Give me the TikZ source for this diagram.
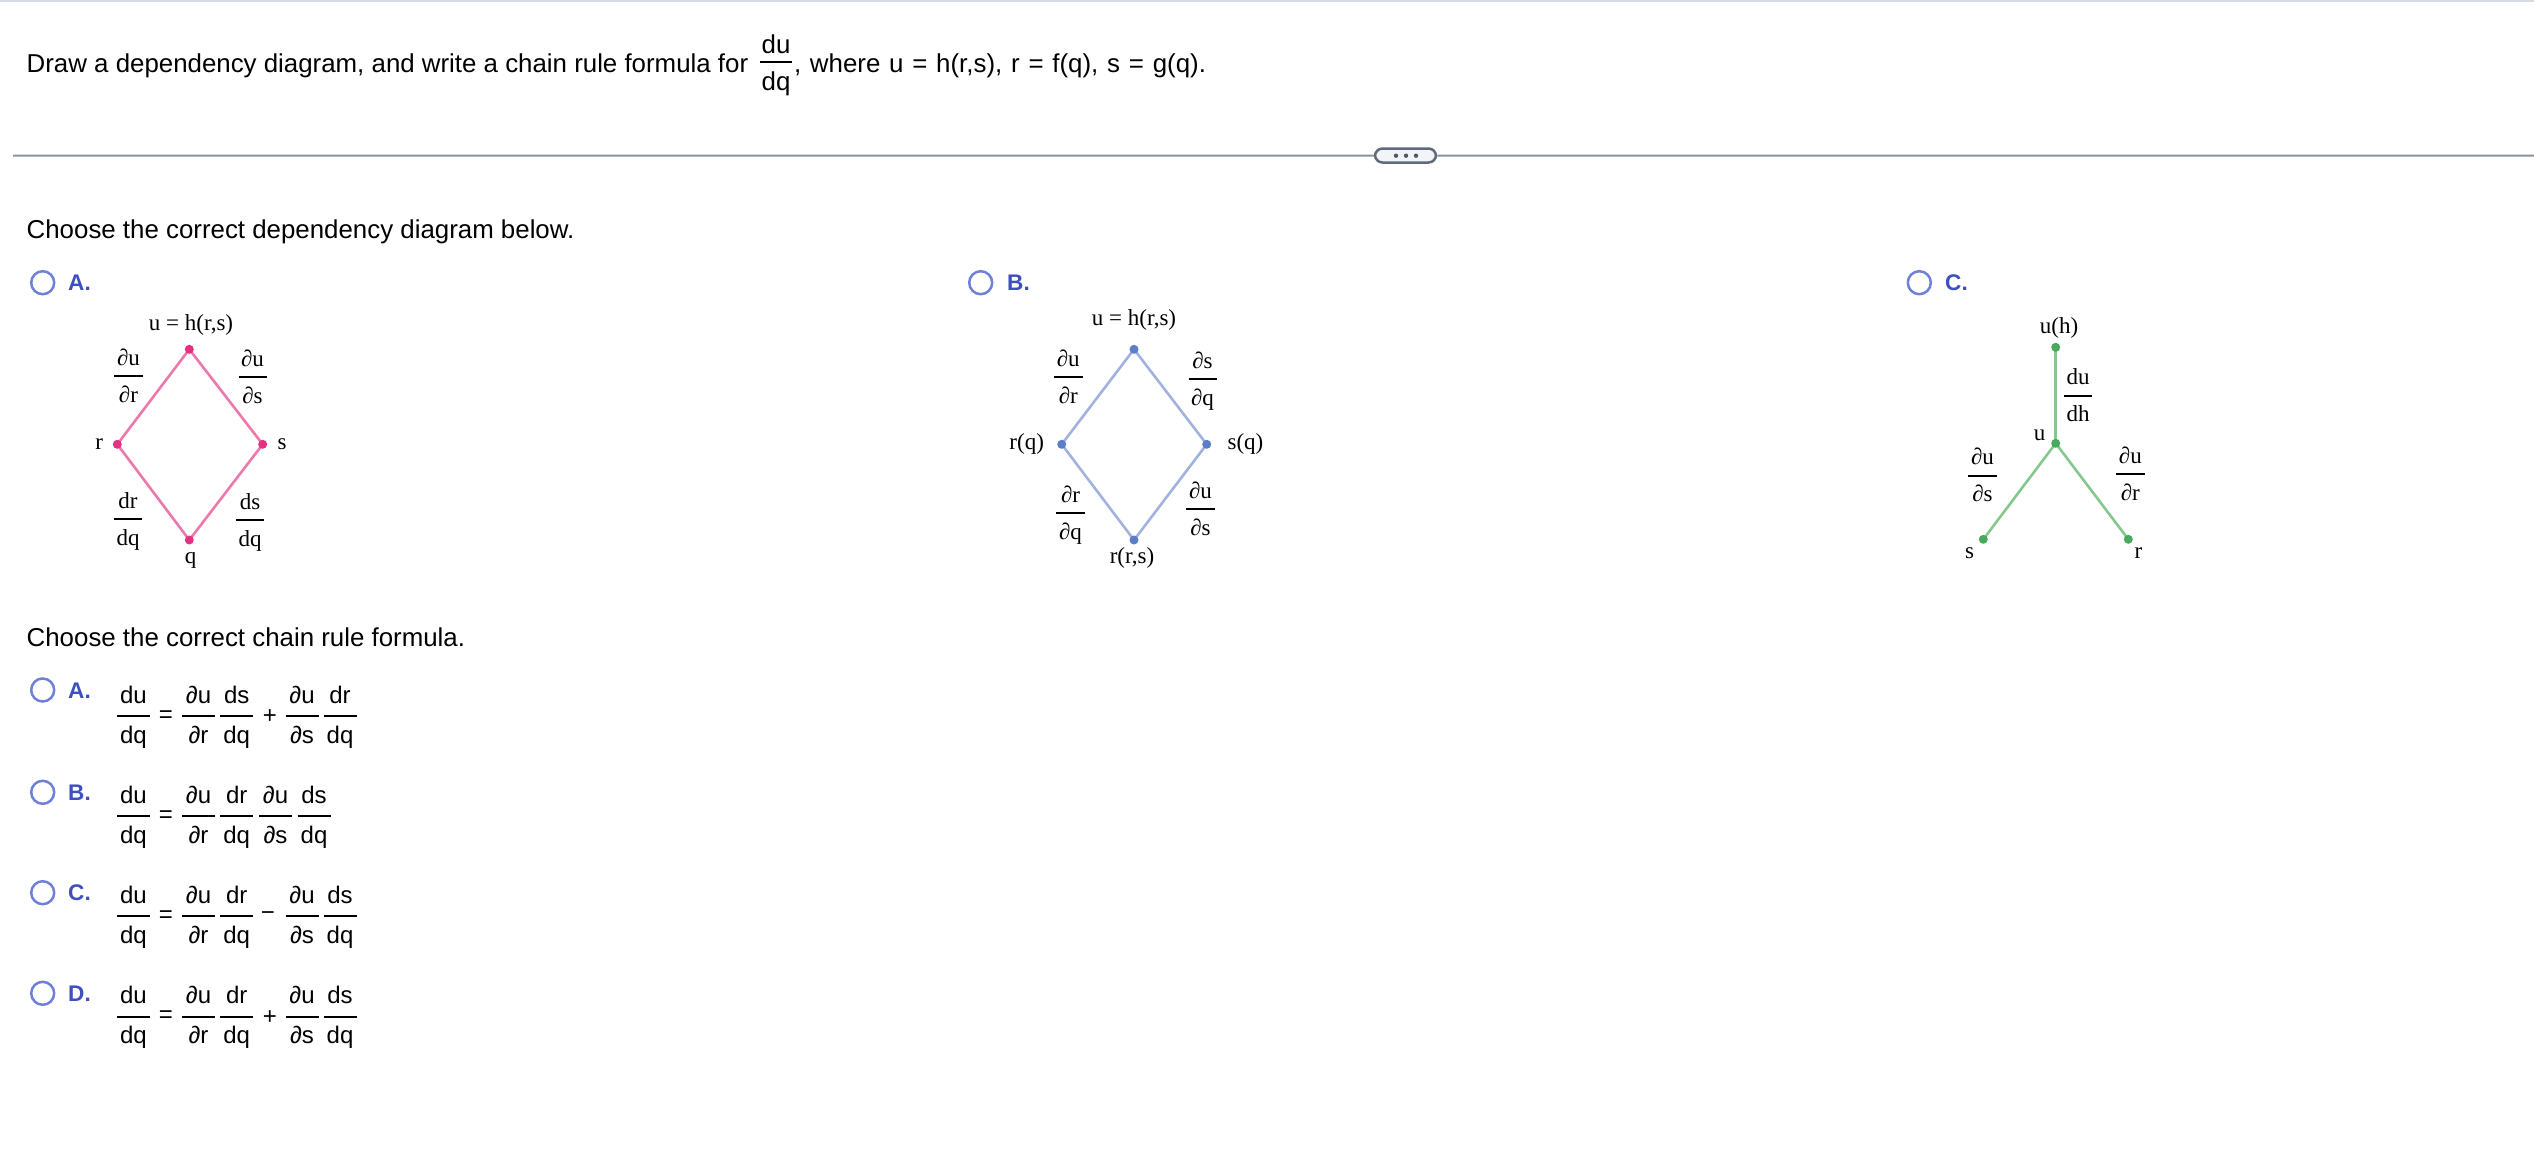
\documentclass[tikz,border=0pt]{standalone}
\usepackage{fontspec}
\setmainfont{Liberation Sans}
\newfontfamily\serfam{Liberation Serif}
\definecolor{optblue}{RGB}{62,80,190}
\definecolor{radiocol}{RGB}{110,128,215}
\definecolor{rulecol}{RGB}{138,144,156}
\definecolor{pillfill}{RGB}{242,244,247}
\definecolor{pilldraw}{RGB}{95,107,122}
\definecolor{pilldots}{RGB}{80,88,100}
\definecolor{pinkline}{RGB}{238,120,172}
\definecolor{pinkdot}{RGB}{228,50,130}
\definecolor{blueline}{RGB}{162,178,222}
\definecolor{bluedot}{RGB}{92,126,200}
\definecolor{greenline}{RGB}{132,200,142}
\definecolor{greendot}{RGB}{72,170,92}
\definecolor{topline}{RGB}{215,219,226}
\tikzset{
  sans/.style={font=\fontsize{25.86}{31}\selectfont, inner sep=0pt, outer sep=0pt},
  fm/.style={font=\fontsize{24}{29}\selectfont, inner sep=0pt, outer sep=0pt},
  ser/.style={font=\serfam\fontsize{23}{27}\selectfont, inner sep=0pt, outer sep=0pt},
  optlab/.style={font=\bfseries\fontsize{22.6}{27}\selectfont, text=optblue, inner sep=0pt, anchor=base west},
  radio/.style={circle, draw=radiocol, line width=2.5pt, minimum size=23pt, inner sep=0pt},
  fbar/.style={line width=2pt, draw=black},
  pedge/.style={draw=pinkline, line width=2.6pt},
  pdot/.style={circle, fill=pinkdot, minimum size=9pt, inner sep=0pt},
  bedge/.style={draw=blueline, line width=2.6pt},
  bdot/.style={circle, fill=bluedot, minimum size=9pt, inner sep=0pt},
  gedge/.style={draw=greenline, line width=2.6pt},
  gdot/.style={circle, fill=greendot, minimum size=9pt, inner sep=0pt},
}
% Times-style fraction in the diagrams: name, x, bar y, num, den, half width
\newcommand\tfrc[6]{%
  \node[ser,anchor=base] (#1n) at (#2,#3-11) {#4};
  \node[ser,anchor=base] (#1d) at (#2,#3+26) {#5};
  \draw[fbar] (#2-#6,#3) -- (#2+#6,#3);}
% sans fraction in the formulas: name, x, bar y, num, den
\newcommand\sfrc[5]{%
  \node[fm,anchor=base] (#1n) at (#2,#3-13) {#4};
  \node[fm,anchor=base] (#1d) at (#2,#3+27) {#5};
  \draw[fbar] (#2-16.5,#3) -- (#2+16.5,#3);}
\begin{document}
\begin{tikzpicture}[x=1pt,y=-1pt]
\useasboundingbox (0,0) rectangle (2534,1162);
% top border
\draw[topline, line width=2pt] (0,1) -- (2534,1);
% title
\node[sans,anchor=base west] (title1) at (26.7,72) {Draw a dependency diagram, and write a chain rule formula for};
\node[sans,anchor=base] (tnum) at (776,53) {du};
\node[sans,anchor=base] (tden) at (776,90) {dq};
\draw[fbar] (760,62) -- (792,62);
\node[sans,anchor=base west] (title2) at (794,72) {\spaceskip=0.34em plus 0.1em\relax , where u = h(r,s), r = f(q), s = g(q).};
% rule with pill
\coordinate (rs) at (13,155.7);
\coordinate (re) at (2534,155.7);
\node[draw=pilldraw, fill=pillfill, line width=2.5pt, rounded corners=7.5pt, minimum width=61pt, minimum height=14pt, inner sep=0pt] (pill) at (1405.5,155.5) {};
\draw[rulecol, line width=2pt] (rs) -- (pill.west);
\draw[rulecol, line width=2pt] (pill.east) -- (re);
\fill[pilldots] (1396,155.7) circle (2.2pt) (1406,155.7) circle (2.2pt) (1416,155.7) circle (2.2pt);
% heading 1
\node[sans,anchor=base west] (h1) at (26.7,238) {Choose the correct dependency diagram below.};
% options for diagrams
\node[radio] (rA) at (42.7,282.7) {};
\node[optlab] (lA) at (68,290.7) {A.};
\node[radio] (rB) at (980.7,282.7) {};
\node[optlab] (lB) at (1007,290.7) {B.};
\node[radio] (rC) at (1919.3,282.7) {};
\node[optlab] (lC) at (1945,290.7) {C.};
% ---------- Diagram A ----------
\coordinate (At) at (189.3,349.3);
\coordinate (Ar) at (117.3,444.3);
\coordinate (As) at (262.7,444.3);
\coordinate (Aq) at (189.3,540);
\draw[pedge] (At) -- (Ar) -- (Aq) -- (As) -- cycle;
\node[pdot] (Atd) at (At) {};
\node[pdot] (Ard) at (Ar) {};
\node[pdot] (Asd) at (As) {};
\node[pdot] (Aqd) at (Aq) {};
\node[ser,anchor=base] (Alu) at (191,330.4) {u = h(r,s)};
\node[ser,anchor=base] (Alr) at (99.3,449.5) {r};
\node[ser,anchor=base] (Als) at (282,449.5) {s};
\node[ser,anchor=base] (Alq) at (190.7,563.5) {q};
\tfrc{Af1}{128.5}{376}{∂u}{∂r}{14.5}
\tfrc{Af2}{252.5}{377.3}{∂u}{∂s}{14}
\tfrc{Af3}{128}{519.3}{dr}{dq}{14}
\tfrc{Af4}{250}{520}{ds}{dq}{14}
% ---------- Diagram B ----------
\coordinate (Bt) at (1134,349.3);
\coordinate (Br) at (1061.7,444.3);
\coordinate (Bs) at (1206.7,444.3);
\coordinate (Bb) at (1134,540);
\draw[bedge] (Bt) -- (Br) -- (Bb) -- (Bs) -- cycle;
\node[bdot] (Btd) at (Bt) {};
\node[bdot] (Brd) at (Br) {};
\node[bdot] (Bsd) at (Bs) {};
\node[bdot] (Bbd) at (Bb) {};
\node[ser,anchor=base] (Blu) at (1134,325.4) {u = h(r,s)};
\node[ser,anchor=base] (Blr) at (1026.7,449) {r(q)};
\node[ser,anchor=base] (Bls) at (1245.5,449) {s(q)};
\node[ser,anchor=base] (Blb) at (1132,563.5) {r(r,s)};
\tfrc{Bf1}{1068.3}{377.3}{∂u}{∂r}{14.3}
\tfrc{Bf2}{1202.5}{379.3}{∂s}{∂q}{14}
\tfrc{Bf3}{1070.5}{513.3}{∂r}{∂q}{14.5}
\tfrc{Bf4}{1200.5}{509.3}{∂u}{∂s}{14.5}
% ---------- Diagram C ----------
\coordinate (Ct) at (2055.7,347.3);
\coordinate (Cu) at (2055.7,443.3);
\coordinate (Cs) at (1983.3,539.3);
\coordinate (Cr) at (2128.3,539.3);
\draw[gedge] (Ct) -- (Cu);
\draw[gedge] (Cu) -- (Cs);
\draw[gedge] (Cu) -- (Cr);
\node[gdot] (Ctd) at (Ct) {};
\node[gdot] (Cud) at (Cu) {};
\node[gdot] (Csd) at (Cs) {};
\node[gdot] (Crd) at (Cr) {};
\node[ser,anchor=base] (Clt) at (2059,333.7) {u(h)};
\node[ser,anchor=base] (Clu) at (2039.5,440) {u};
\node[ser,anchor=base] (Cls) at (1969.5,558) {s};
\node[ser,anchor=base] (Clr) at (2138.5,558) {r};
\tfrc{Cf1}{2078}{395.7}{du}{dh}{13.7}
\tfrc{Cf2}{1982.5}{475.7}{∂u}{∂s}{14.2}
\tfrc{Cf3}{2130.3}{474}{∂u}{∂r}{14.2}
% heading 2
\node[sans,anchor=base west] (h2) at (26.7,646.5) {Choose the correct chain rule formula.};
% ---------- Formula A ----------
\node[radio] (fA) at (42.7,690) {};
\node[optlab] (fAl) at (68,698.3) {A.};
\sfrc{FA1}{133.5}{716}{du}{dq}
\node[fm] (FAeq) at (166,716.5) {=};
\sfrc{FA2}{198.5}{716}{∂u}{∂r}
\sfrc{FA3}{236.7}{716}{ds}{dq}
\node[fm] (FAop) at (270,716.7) {+};
\sfrc{FA4}{302}{716}{∂u}{∂s}
\sfrc{FA5}{340}{716}{dr}{dq}
% ---------- Formula B ----------
\node[radio] (fB) at (42.7,792.3) {};
\node[optlab] (fBl) at (68,800.3) {B.};
\sfrc{FB1}{133.5}{816}{du}{dq}
\node[fm] (FBeq) at (166,816.5) {=};
\sfrc{FB2}{198.5}{816}{∂u}{∂r}
\sfrc{FB3}{236.7}{816}{dr}{dq}
\sfrc{FB4}{275.5}{816}{∂u}{∂s}
\sfrc{FB5}{314}{816}{ds}{dq}
% ---------- Formula C ----------
\node[radio] (fC) at (42.7,892.7) {};
\node[optlab] (fCl) at (68,900.7) {C.};
\sfrc{FC1}{133.5}{916}{du}{dq}
\node[fm] (FCeq) at (166,916.5) {=};
\sfrc{FC2}{198.5}{916}{∂u}{∂r}
\sfrc{FC3}{236.7}{916}{dr}{dq}
\node[fm] (FCop) at (268,916) {−};
\sfrc{FC4}{302}{916}{∂u}{∂s}
\sfrc{FC5}{340}{916}{ds}{dq}
% ---------- Formula D ----------
\node[radio] (fD) at (42.7,993.3) {};
\node[optlab] (fDl) at (68,1001.3) {D.};
\sfrc{FD1}{133.5}{1016.5}{du}{dq}
\node[fm] (FDeq) at (166,1017) {=};
\sfrc{FD2}{198.5}{1016.5}{∂u}{∂r}
\sfrc{FD3}{236.7}{1016.5}{dr}{dq}
\node[fm] (FDop) at (270,1017.2) {+};
\sfrc{FD4}{302}{1016.5}{∂u}{∂s}
\sfrc{FD5}{340}{1016.5}{ds}{dq}
\end{tikzpicture}
\end{document}
